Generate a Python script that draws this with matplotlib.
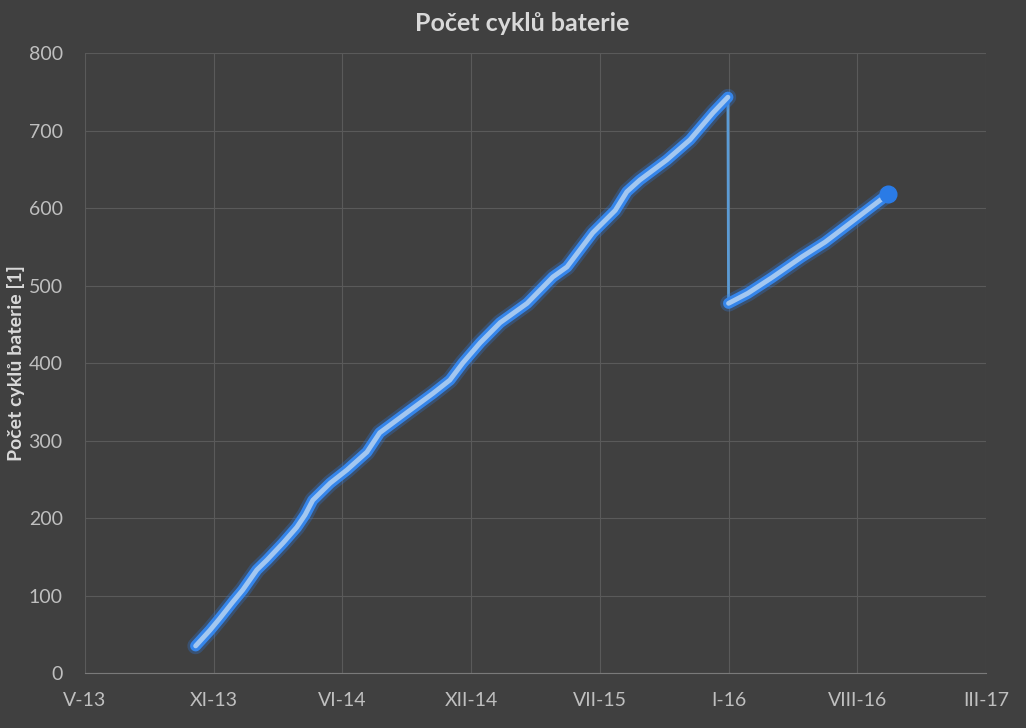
import numpy as np
import matplotlib
matplotlib.use('Agg')
import matplotlib.pyplot as plt
import matplotlib.dates as mdates
import pandas as pd

plt.rcParams['font.family'] = ['Lato', 'DejaVu Sans']

# data
dates = ['2013-10-25', '2013-11-16', '2013-12-02', '2013-12-22', '2014-01-06',
         '2014-01-28', '2014-02-13', '2014-03-10', '2014-03-31', '2014-04-13',
         '2014-04-25', '2014-05-22', '2014-06-17', '2014-07-18', '2014-08-07',
         '2014-09-23', '2014-10-29', '2014-11-24', '2014-12-14', '2015-01-10',
         '2015-02-10', '2015-03-24', '2015-05-03', '2015-05-25', '2015-07-04',
         '2015-08-08', '2015-08-26', '2015-09-15', '2015-10-27', '2015-12-02',
         '2016-01-07', '2016-01-30',
         '2016-01-31', '2016-03-01', '2016-04-07', '2016-05-24', '2016-06-29',
         '2016-08-14', '2016-10-05']
cycles = [35, 55, 71, 92, 107,
          133, 146, 168, 188, 204,
          223, 245, 262, 285, 310,
          339, 361, 378, 400, 426,
          452, 477, 511, 524, 568,
          597, 621, 636, 662, 688,
          723, 743,
          477, 490, 510, 537, 556,
          585, 618]
reset_index = 32  # battery counter reset after this many points

tick_dates = ['2013-05-06', '2013-11-22', '2014-06-10', '2014-12-27',
              '2015-07-15', '2016-01-31', '2016-08-18', '2017-03-06']
tick_labels = ['V-13', 'XI-13', 'VI-14', 'XII-14', 'VII-15', 'I-16', 'VIII-16', 'III-17']

x = mdates.date2num(pd.to_datetime(dates))
y = np.array(cycles)
xt = mdates.date2num(pd.to_datetime(tick_dates))

bg = '#404040'
txt = '#d9d9d9'
fig = plt.figure(figsize=(10.26, 7.28), dpi=100, facecolor=bg)
ax = fig.add_axes([0.0828, 0.0755, 0.961 - 0.0828, 0.9272 - 0.0755])
ax.set_facecolor(bg)

# thin connecting line through all points
ax.plot(x, y, color='#5b9bd5', lw=2, zorder=3)
# glow along each run
for a, b in [(0, reset_index), (reset_index, len(x))]:
    ax.plot(x[a:b], y[a:b], color='#2f7ae0', lw=12, alpha=0.3,
            solid_capstyle='round', solid_joinstyle='round', zorder=3)
    ax.plot(x[a:b], y[a:b], color='#3585ea', lw=8,
            solid_capstyle='round', solid_joinstyle='round', zorder=4)
    ax.plot(x[a:b], y[a:b], color='#a3c7f0', lw=3.5,
            solid_capstyle='round', solid_joinstyle='round', zorder=5)
ax.plot(x[-1], y[-1], 'o', ms=12, color='#2a7be6', zorder=6)

ax.set_xlim(xt[0], xt[-1])
ax.set_ylim(0, 800)
ax.set_xticks(xt)
ax.set_xticklabels(tick_labels)
ax.set_yticks(np.arange(0, 801, 100))

ax.grid(True, color='#5a5a5a', lw=0.8)
ax.set_axisbelow(True)
for s in ['top', 'right', 'left']:
    ax.spines[s].set_visible(False)
ax.spines['bottom'].set_color('#7a7a7a')
ax.tick_params(length=0, colors='#bfbfbf', labelsize=14)
ax.tick_params(axis='x', pad=14)
ax.tick_params(axis='y', pad=16)

ax.set_ylabel('Počet cyklů baterie [1]', color=txt, fontsize=14,
              fontweight='bold')
ax.yaxis.set_label_coords(-0.066, 0.5)
fig.text(0.509, 0.968, 'Počet cyklů baterie', color=txt, fontsize=18,
         fontweight='bold', ha='center', va='center')

fig.savefig('out.png', dpi=100, facecolor=bg)
